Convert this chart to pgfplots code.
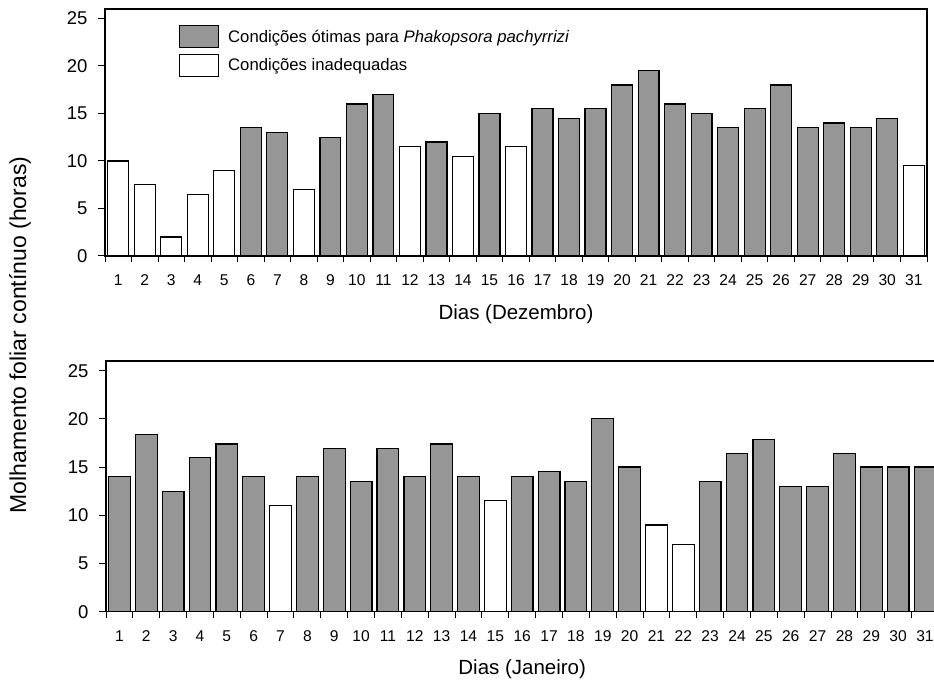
\documentclass[border=0pt]{standalone}
\usepackage{fontspec}
\setmainfont{Liberation Sans}
\usepackage{pgfplots}
\pgfplotsset{compat=1.18}
\definecolor{bargray}{RGB}{150,150,150}
\pgfplotsset{
  mybars/.style={
    scale only axis,
    ybar, bar width=0.79,
    ymin=0, ymax=26,
    ytick={0,5,...,25},
    xtick={1,...,31},
    minor xtick={0.5,1.5,...,31.5},
    tick pos=left,
    tick align=outside,
    major x tick style={draw=none},
    major tick length=7pt,
    minor tick length=6pt,
    tick style={black, line width=1pt},
    axis line style={line width=1.2pt},
    /pgf/number format/assume math mode=true,
    yticklabel style={font=\fontsize{18.5}{18.5}\selectfont, xshift=-7pt},
    xticklabel style={font=\fontsize{15.6}{15.6}\selectfont, text height=11.2pt, text depth=0pt, yshift=-8pt},
    xlabel style={font=\fontsize{20.5}{20.5}\selectfont, anchor=center},
  },
  barstyle/.style={draw=black, line width=1.2pt, bar shift=0pt,
     legend image code/.code={\draw[##1] (0pt,-11pt) rectangle (39pt,11pt);}},
}
\begin{document}
\begin{tikzpicture}
\useasboundingbox (0,0) rectangle (934pt,680pt);
\clip (0,0) rectangle (934pt,680pt);
\begin{axis}[mybars, width=822pt, height=247pt, at={(105pt,424pt)}, anchor=south west,
  xmin=0.5, xmax=31.5, xlabel={Dias (Dezembro)},
  xlabel style={at={(axis description cs:0.5,-0.2348)}},
  legend style={at={(rel axis cs:0.090,0.935)}, anchor=north west, draw=none, fill=none,
    inner sep=0pt, outer sep=0pt, row sep=5.7pt, font=\fontsize{16.7}{16.7}\selectfont,
    nodes={inner sep=0pt}, /tikz/every odd column/.append style={column sep=9pt}},
  legend cell align=left]
\addplot[barstyle, fill=bargray] coordinates {(6,13.5)(7,13)(9,12.5)(10,16)(11,17)(13,12)(15,15)(17,15.5)(18,14.5)(19,15.5)(20,18)(21,19.5)(22,16)(23,15)(24,13.5)(25,15.5)(26,18)(27,13.5)(28,14)(29,13.5)(30,14.5)};
\addplot[barstyle, fill=white] coordinates {(1,10)(2,7.5)(3,2)(4,6.5)(5,9)(8,7)(12,11.5)(14,10.5)(16,11.5)(31,9.5)};
\legend{Condições ótimas para \textit{Phakopsora pachyrrizi}, Condições inadequadas}
\end{axis}
\begin{axis}[mybars, bar width=0.81, width=832.4pt, height=250.7pt, at={(106pt,68.3pt)}, anchor=south west,
  xmin=0.5, xmax=31.5, xlabel={Dias (Janeiro)},
  xlabel style={at={(axis description cs:0.5,-0.2286)}}]
\addplot[barstyle, fill=bargray] coordinates {(1,14)(2,18.4)(3,12.5)(4,16)(5,17.4)(6,14)(8,14)(9,16.9)(10,13.5)(11,16.9)(12,14)(13,17.4)(14,14)(16,14)(17,14.5)(18,13.5)(19,20)(20,15)(23,13.5)(24,16.4)(25,17.9)(26,13)(27,13)(28,16.4)(29,15)(30,15)(31,15)};
\addplot[barstyle, fill=white] coordinates {(7,11)(15,11.5)(21,9)(22,7)};
\end{axis}
\node[rotate=90, font=\fontsize{23}{23}\selectfont] at (20pt,345pt) {Molhamento foliar contínuo (horas)};
\end{tikzpicture}
\end{document}
